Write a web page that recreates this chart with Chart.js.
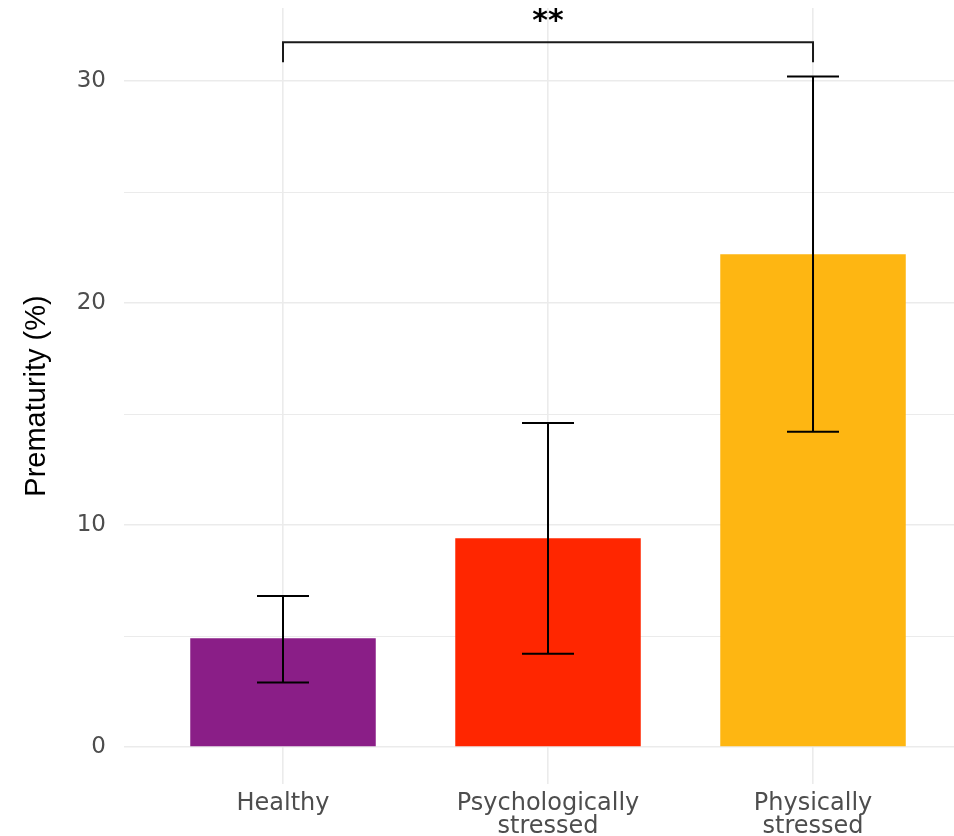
<!DOCTYPE html>
<html>
<head>
<meta charset="utf-8">
<title>Prematurity by group</title>
<script src="https://cdn.jsdelivr.net/npm/chart.js@4/dist/chart.umd.min.js"></script>
<style>
  html, body { margin: 0; padding: 0; background: #ffffff; }
  #wrap { width: 954px; height: 836px; position: relative; }
</style>
</head>
<body>
<div id="wrap"><canvas id="chart"></canvas></div>
<script>
// Data
const groups = [['Healthy'], ['Psychologically', 'stressed'], ['Physically', 'stressed']];
const groupPositions = [1, 2, 3];
const prematurity = [4.9, 9.4, 22.2];
const errorLow = [2.9, 4.2, 14.2];
const errorHigh = [6.8, 14.6, 30.2];
const barColors = ['#8a1e87', '#ff2600', '#feb612'];
const yTicks = [0, 5, 10, 15, 20, 25, 30];

// Significance bracket between first and last group
const bracketFrom = 1;
const bracketTo = 3;
const bracketTop = 31.75;
const bracketBottom = 30.85;
const bracketLabel = '**';
const bracketLabelY = 32.3;

const gridColor = '#ebebeb';
const textColor = '#4d4d4d';

// Error bars + bracket drawn through the chart scales
const annotations = {
  id: 'annotations',
  afterDatasetsDraw(chart) {
    const ctx = chart.ctx;
    const x = chart.scales.x;
    const y = chart.scales.y;
    const capHalf = 26;

    ctx.save();
    ctx.strokeStyle = '#000000';
    ctx.lineWidth = 2;
    groupPositions.forEach((pos, i) => {
      const px = x.getPixelForValue(pos);
      const lo = y.getPixelForValue(errorLow[i]);
      const hi = y.getPixelForValue(errorHigh[i]);
      ctx.beginPath();
      ctx.moveTo(px, lo);
      ctx.lineTo(px, hi);
      ctx.moveTo(px - capHalf, lo);
      ctx.lineTo(px + capHalf, lo);
      ctx.moveTo(px - capHalf, hi);
      ctx.lineTo(px + capHalf, hi);
      ctx.stroke();
    });

    const bx1 = x.getPixelForValue(bracketFrom);
    const bx2 = x.getPixelForValue(bracketTo);
    const by = y.getPixelForValue(bracketTop);
    const byEnd = y.getPixelForValue(bracketBottom);
    ctx.strokeStyle = '#1a1a1a';
    ctx.beginPath();
    ctx.moveTo(bx1, byEnd);
    ctx.lineTo(bx1, by);
    ctx.lineTo(bx2, by);
    ctx.lineTo(bx2, byEnd);
    ctx.stroke();

    ctx.fillStyle = '#000000';
    ctx.font = 'bold 30px "DejaVu Sans"';
    ctx.textAlign = 'center';
    ctx.textBaseline = 'alphabetic';
    ctx.fillText(bracketLabel, (bx1 + bx2) / 2, y.getPixelForValue(bracketLabelY));
    ctx.restore();
  }
};

new Chart(document.getElementById('chart'), {
  type: 'bar',
  data: {
    datasets: [{
      data: groupPositions.map((pos, i) => ({ x: pos, y: prematurity[i] })),
      backgroundColor: barColors,
      borderWidth: 0,
      barPercentage: 0.7,
      categoryPercentage: 1.0
    }]
  },
  options: {
    responsive: true,
    maintainAspectRatio: false,
    animation: false,
    layout: { padding: { top: 8, right: 0, left: 0, bottom: 0 } },
    plugins: {
      legend: { display: false },
      tooltip: { enabled: false }
    },
    scales: {
      x: {
        type: 'linear',
        min: 0.4,
        max: 3.532,
        offset: false,
        afterBuildTicks: axis => { axis.ticks = groupPositions.map(v => ({ value: v })); },
        afterFit: axis => {
          axis.height = 52;
          axis.paddingLeft = 0;
          axis.paddingRight = 0;
        },
        border: { display: false },
        grid: { color: gridColor, lineWidth: 1.6, drawTicks: false, offset: false },
        ticks: {
          padding: 8,
          color: textColor,
          font: { family: 'DejaVu Sans', size: 24, lineHeight: 0.96 },
          autoSkip: false,
          maxRotation: 0,
          callback: (value, index) => groups[index]
        }
      },
      y: {
        min: -1.667,
        max: 33.29,
        afterBuildTicks: axis => { axis.ticks = yTicks.map(v => ({ value: v })); },
        afterFit: axis => {
          axis.width = 124;
          axis.paddingTop = 0;
          axis.paddingBottom = 0;
        },
        border: { display: false },
        grid: {
          color: gridColor,
          lineWidth: c => (c.tick && c.tick.value % 10 === 0 ? 1.6 : 1),
          drawTicks: false
        },
        ticks: {
          padding: 18,
          color: textColor,
          font: { family: 'DejaVu Sans', size: 23 },
          callback: v => (v % 10 === 0 ? String(v) : '')
        },
        title: {
          display: true,
          text: 'Prematurity (%)',
          color: '#000000',
          font: { family: 'Liberation Sans', size: 29 },
          padding: { top: 20, bottom: 0 }
        }
      }
    }
  },
  plugins: [annotations]
});
</script>
</body>
</html>
